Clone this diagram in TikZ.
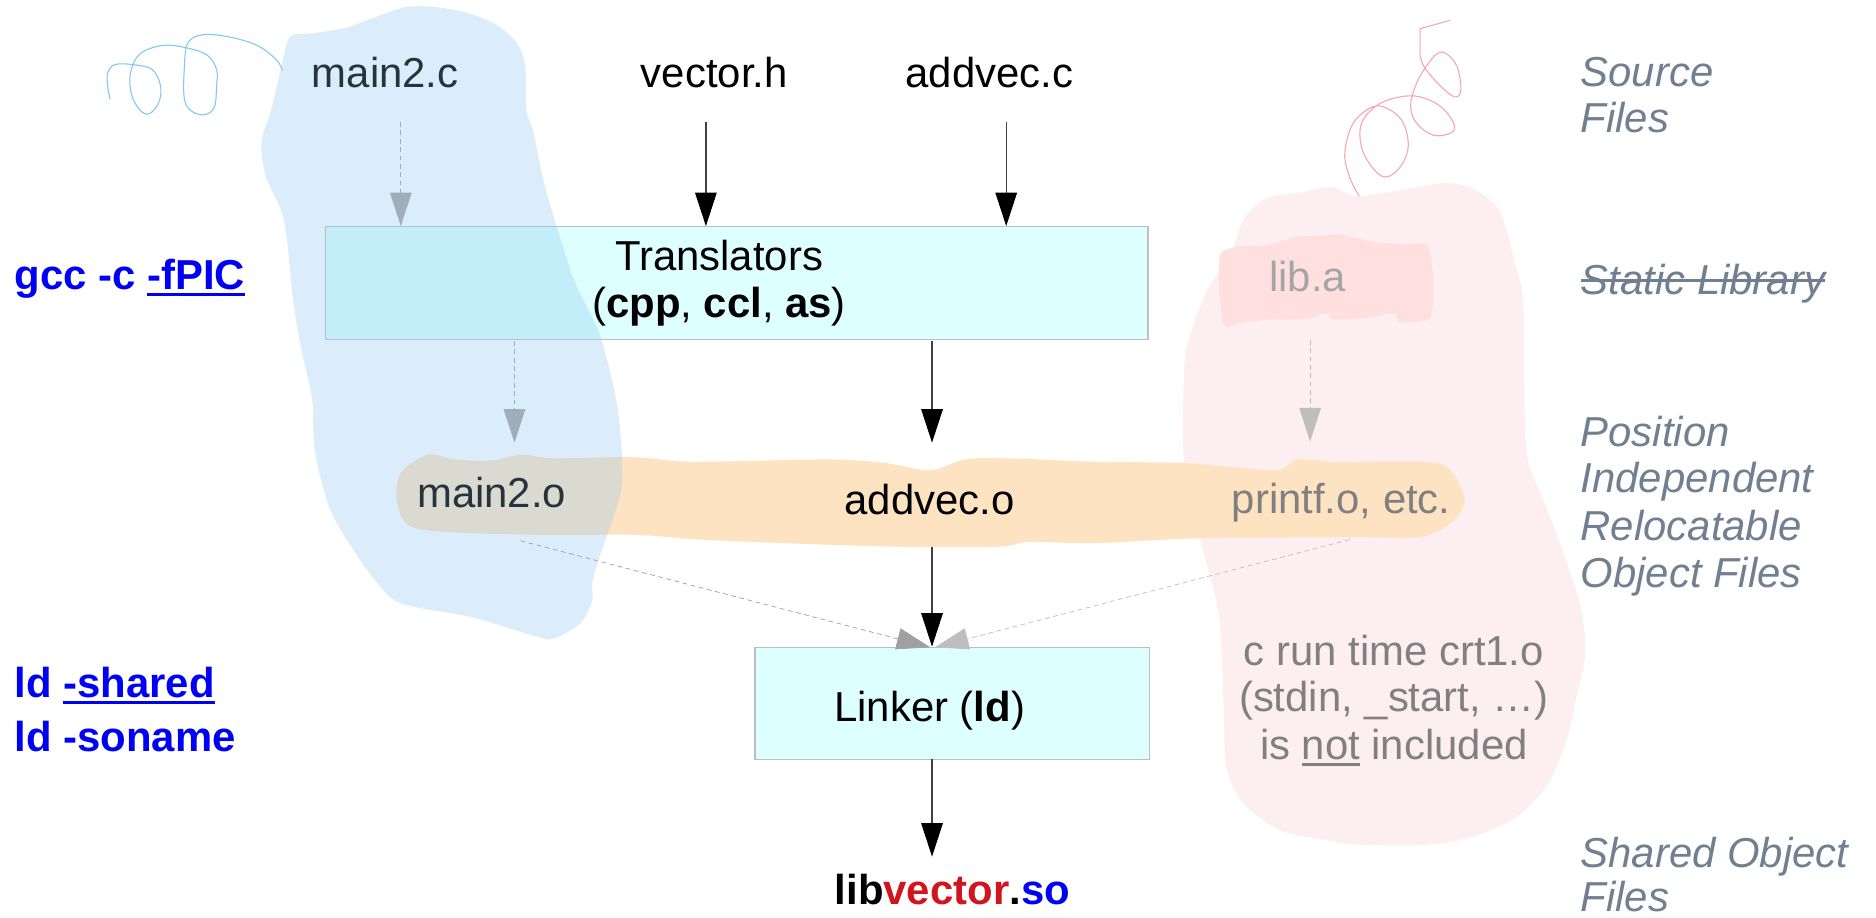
\documentclass[tikz,border=0pt]{standalone}
\usepackage{fontspec}
\setmainfont{Liberation Sans}
\usetikzlibrary{arrows.meta}
\newcommand\myul[1]{\setbox0\hbox{#1}\rlap{\rule[-5pt]{\wd0}{2pt}}\box0\relax}
\newcommand\mystrike[1]{\setbox0\hbox{#1}\rlap{\rule[10.5pt]{\wd0}{2pt}}\box0\relax}
\definecolor{blobblue}{RGB}{146,202,242}
\definecolor{squigblue}{RGB}{130,200,240}
\definecolor{pinkblob}{RGB}{253,238,242}
\definecolor{squigpink}{RGB}{245,165,180}
\definecolor{salmon}{RGB}{255,224,222}
\definecolor{bandorange}{RGB}{253,227,194}
\definecolor{boxcyan}{RGB}{221,255,255}
\definecolor{boxgray}{RGB}{190,190,190}
\definecolor{darkslate}{RGB}{38,52,62}
\definecolor{slate}{RGB}{112,128,144}
\definecolor{txtgray}{RGB}{128,128,128}
\definecolor{libgray}{RGB}{165,165,165}
\definecolor{dashblue}{RGB}{160,174,186}
\definecolor{dashgray}{RGB}{160,160,160}
\definecolor{lightdash}{RGB}{190,190,190}
\definecolor{cmdblue}{RGB}{0,0,245}
\definecolor{libred}{RGB}{210,20,30}
\tikzset{
  lbl/.style={font=\fontsize{35}{39}\selectfont, inner sep=0pt, anchor=base},
  lblw/.style={lbl, anchor=base west},
  sidelbl/.style={lblw, text=slate, font=\fontsize{35}{39}\selectfont\itshape},
  cmd/.style={lblw, text=cmdblue, font=\fontsize{35}{39}\selectfont\bfseries},
  box/.style={draw=boxgray, fill=boxcyan, line width=1pt, inner sep=0pt},
  solidarr/.style={draw=black!75, line width=1pt, -{Triangle[length=28pt,width=18pt,color=black]}},
  dasharr/.style={draw=dashblue, line width=0.8pt, dash pattern=on 4pt off 3pt, -{Triangle[length=28pt,width=18pt,color=dashblue]}},
  dasharrlight/.style={draw=lightdash, line width=0.8pt, dash pattern=on 4pt off 3pt, -{Triangle[length=28pt,width=18pt,color=lightdash]}},
  thindash/.style={line width=0.6pt, dash pattern=on 4pt off 3pt},
}
\begin{document}
\begin{tikzpicture}[x=1pt,y=-1pt]
\useasboundingbox[fill=white] (0,0) rectangle (1568,767);

% pink blob
\fill[pinkblob] plot[smooth cycle, tension=0.5] coordinates {
 (1039,184) (1058,166) (1087,161) (1113,156) (1133,164) (1170,159) (1209,153) (1234,159)
 (1254,178) (1267,223) (1273,251) (1274,334) (1277,384) (1290,418) (1306,460) (1321,507)
 (1325,546) (1317,585) (1310,616) (1294,655) (1267,683) (1232,699) (1194,706) (1135,706)
 (1108,702) (1070,694) (1039,671) (1025,641) (1023,599) (1019,516) (1004,454) (990,390)
 (989,334) (992,290) (1008,245) (1029,212)};
% pink squiggle
\draw[squigpink, line width=0.9pt] plot[smooth, tension=0.6] coordinates {
 (1136,164) (1128,148) (1124,128) (1131,103) (1148,89) (1162,92) (1173,103) (1177,123)
 (1170,140) (1158,148) (1147,140) (1138,123) (1138,103) (1151,88) (1170,81) (1187,81)
 (1204,89) (1215,103) (1213,111) (1198,113) (1184,103) (1179,89) (1183,72) (1191,57)
 (1201,45) (1209,45) (1218,56) (1221,75) (1216,81) (1204,72) (1191,57) (1187,47)}
 -- (1187,24) -- (1212,17);
% lib.a patch
\fill[salmon] plot[smooth cycle, tension=0.4] coordinates {
 (1020,212) (1036,206) (1059,205) (1084,198) (1100,197) (1120,196) (1137,200) (1153,203)
 (1175,204) (1193,205) (1198,234) (1195,266) (1170,269) (1165,262) (1140,266) (1114,267)
 (1109,262) (1089,267) (1059,267) (1036,270) (1023,272) (1019,240)};
% orange band
\fill[bandorange] plot[smooth cycle, tension=0.5] coordinates {
 (358,380) (380,384) (410,385) (436,380) (462,383) (522,382) (543,383) (581,386) (692,384)
 (740,387) (778,393) (816,383) (916,386) (990,387) (1065,393) (1084,384) (1116,386) (1194,386)
 (1213,394) (1224,418) (1213,437) (1186,449) (1135,449) (1000,450) (916,454) (860,453)
 (834,457) (752,457) (655,454) (585,451) (529,447) (446,447) (349,442) (332,420) (335,395)};

% boxes
\node[box, minimum width=687.5pt, minimum height=94pt] (trans) at (615.75,236.5) {};
\node[box, minimum width=330pt, minimum height=94pt] (link) at (796,588) {};

% blue blob (translucent, on top)
\fill[blobblue, opacity=0.32] plot[smooth cycle, tension=0.5] coordinates {
 (234,61) (242,31) (259,28) (290,23) (339,6) (379,8) (412,19) (432,36) (439,56) (440,92)
 (446,111) (454,150) (467,195) (481,237) (501,279) (515,334) (520,384) (518,415) (501,466)
 (495,487) (495,502) (485,521) (462,534) (445,531) (395,516) (345,507) (326,499)
 (301,468) (276,426) (263,376) (261,334) (252,293) (245,251) (240,201) (235,176) (223,150)
 (219,131) (219,115) (226,94)};
% blue squiggle
\draw[squigblue, line width=0.9pt] plot[smooth, tension=0.6] coordinates {
 (92,83) (90,72) (90,61) (96,54) (111,54) (127,58) (134,71) (133,85) (125,95) (117,92)
 (110,79) (109,61) (117,45) (136,38) (156,40) (173,46) (181,58) (181,72) (179,90) (170,96)
 (159,92) (154,82) (154,58) (157,36) (170,29) (192,31) (215,38) (231,50) (236,59)};

% source files
\node[lbl, text=darkslate] (mc) at (322,73) {main2.c};
\node[lbl] (vh) at (597,73) {vector.h};
\node[lbl] (ac) at (827,73) {addvec.c};

% translators text
\node[lbl] (tr1) at (601,226) {Translators};
\node[lbl] (tr2) at (601,265) {(\textbf{cpp}, \textbf{ccl}, \textbf{as})};

% lib.a
\node[lbl, text=libgray] (liba) at (1093,244) {lib.a};

% objects
\node[lbl, text=darkslate] (mo) at (411,424) {main2.o};
\node[lbl] (ao) at (777,430) {addvec.o};
\node[lbl, text=txtgray] (po) at (1121,429) {printf.o, etc.};

% linker text
\node[lbl] (lk) at (777,603) {Linker (\textbf{ld})};

% output
\node[lbl, font=\fontsize{35}{39}\selectfont\bfseries] (so) at (796,756) {lib\textcolor{libred}{vector}.\textcolor{cmdblue}{so}};

% crt1 note
\node[lbl, text=txtgray] (crtA) at (1165,556) {c run time crt1.o};
\node[lbl, text=txtgray] (crtB) at (1165,595) {(stdin, \_start, …)};
\node[lbl, text=txtgray] (crtC) at (1165,635) {is \myul{not} included};

% left commands
\node[cmd] (gcc) at (12,242) {gcc -c \myul{-fPIC}};
\node[cmd] (ld1) at (12,583) {ld \myul{-shared}};
\node[cmd] (ld2) at (12,628) {ld -soname};

% side labels
\node[sidelbl] (s1a) at (1321,72) {Source};
\node[sidelbl] (s1b) at (1321,111) {Files};
\node[sidelbl] (s2) at (1321,246) {\mystrike{Static Library}};
\node[sidelbl] (s3a) at (1321,373) {Position};
\node[sidelbl] (s3b) at (1321,412) {Independent};
\node[sidelbl] (s3c) at (1321,452) {Relocatable};
\node[sidelbl] (s3d) at (1321,491) {Object Files};
\node[sidelbl] (s4a) at (1321,725) {Shared Object};
\node[sidelbl] (s4b) at (1321,762) {Files};

% connectors
\coordinate (mcs) at (335,102);
\coordinate (vhs) at (590,102);
\coordinate (acs) at (841,102);
\draw[dasharr] (mcs) -- (mcs |- trans.north);
\draw[solidarr] (vhs) -- (vhs |- trans.north);
\draw[solidarr] (acs) -- (acs |- trans.north);

\coordinate (t1) at (430,285);
\coordinate (t1e) at (430,370);
\coordinate (t2) at (779,285);
\coordinate (t2e) at (779,370);
\coordinate (la) at (1095,284);
\coordinate (lae) at (1095,369);
\draw[dasharr] (t1) -- (t1e);
\draw[solidarr] (t2) -- (t2e);
\draw[dasharrlight] (la) -- (lae);

\coordinate (mob) at (435,452);
\coordinate (aob) at (779,457);
\coordinate (pob) at (1128,451);
\coordinate (lkl) at (777.5,541);
\coordinate (lkr) at (781.5,541);
\draw[draw=dashgray, thindash, -{Triangle[length=28pt,width=18pt,color=dashgray]}] (mob) -- (lkl);
\draw[draw=lightdash, thindash, -{Triangle[length=28pt,width=18pt,color=lightdash]}] (pob) -- (lkr);
\draw[solidarr] (aob) -- (aob |- link.north);

\coordinate (lks) at (779,634);
\coordinate (soe) at (779,716);
\draw[solidarr] (lks) -- (soe);
\end{tikzpicture}
\end{document}
